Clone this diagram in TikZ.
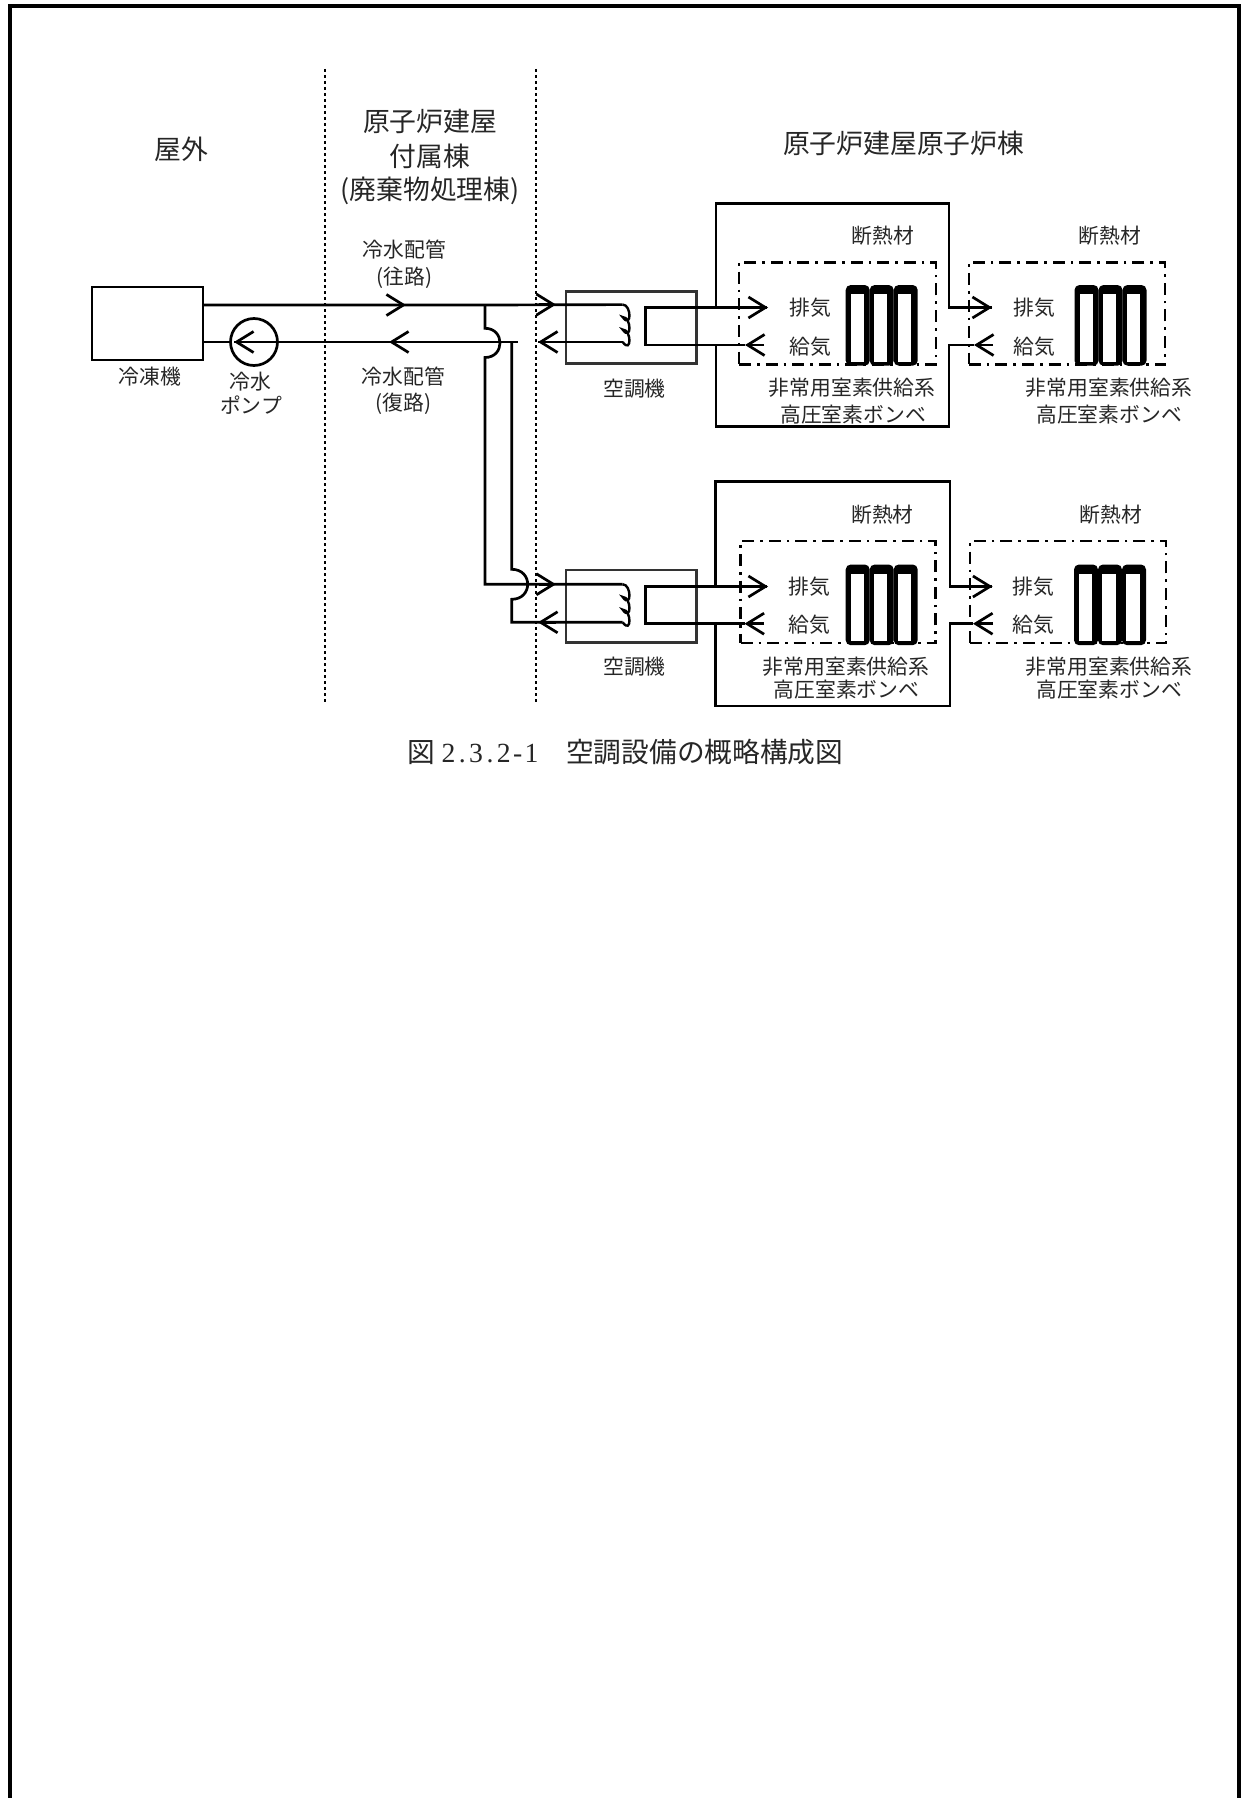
\documentclass[tikz,border=0pt]{standalone}
\usepackage{fontspec}
\setmainfont{Liberation Serif}
\newfontfamily\jp{Noto Sans CJK JP}
\usetikzlibrary{arrows.meta,calc}
\newcommand{\dch}[1]{\makebox[6.93pt][c]{#1}}
\tikzset{
  pipe/.style={line width=1.35pt,line join=miter},
  arr/.style={line width=1.35pt,-{Straight Barb[length=8.5pt,width=10.5pt,line width=1.35pt]}},
  boxn/.style={draw,line width=1.35pt,inner sep=0pt,outer sep=0pt},
  thinbox/.style={draw,draw=black!80,line width=1.25pt,inner sep=0pt,outer sep=0pt},
  ins/.style={draw,line width=1.25pt,dash pattern=on 6pt off 3pt on 1.3pt off 3pt,inner sep=0pt,outer sep=0pt},
  zone/.style={line width=1.25pt,dash pattern=on 1.4pt off 1.6pt},
  txt/.style={font=\jp\fontsize{10.4}{12}\selectfont,inner sep=0pt,text=black!85},
  big/.style={font=\jp\fontsize{13.4}{15}\selectfont,inner sep=0pt,text=black!85},
  bottles/.pic={
    \foreach \o/\i in {0/5,24/28.3,48/52.3}{
      \fill[rounded corners=2.5pt] (\o,0) rectangle (\o+24,80.7);
      \fill[white] (\i,9.3) rectangle (\i+13.4,76.7);
    }
  },
  coilpath/.style={line width=1.2pt}
}
\begin{document}
\begin{tikzpicture}[x=0.5pt,y=-0.5pt]
\useasboundingbox (0,0) rectangle (1248,1798);
% page frame
\draw[line width=2.4pt] (10,1798) -- (10,6) -- (1239,6) -- (1239,1798);
% zone boundaries
\coordinate (z1t) at (325,69); \coordinate (z1b) at (325,702);
\coordinate (z2t) at (536,69); \coordinate (z2b) at (536,702);
\draw[zone] (z1t) -- (z1b);
\draw[zone] (z2t) -- (z2b);
% zone titles
\node[big] (t1) at (181.5,149) {屋外};
\node[big] (t2) at (430,121.7) {原子炉建屋};
\node[big] (t3) at (430,156.7) {付属棟};
\node[big] (t4) at (430,190.7) {(廃棄物処理棟)};
\node[big] (t5) at (903.7,143) {原子炉建屋原子炉棟};
% equipment
\node[boxn,minimum width=55.5pt,minimum height=36.5pt] (chiller) at (147.5,323.5) {};
\node[boxn,circle,minimum size=23.5pt] (pump) at (254,342) {};
\node[thinbox,minimum width=65.3pt,minimum height=36pt] (ahuA) at (631.3,327.5) {};
\node[thinbox,minimum width=65.3pt,minimum height=36.3pt] (ahuB) at (631.3,606.4) {};
% labels
\node[txt] (l1) at (150,376.7) {冷凍機};
\node[txt] (l2) at (250.5,381.7) {冷水};
\node[txt] (l3) at (251,405) {ポンプ};
\node[txt] (l4) at (404.4,250) {冷水配管};
\node[txt] (l5) at (404.4,277.7) {(往路)};
\node[txt] (l6) at (403.4,376.7) {冷水配管};
\node[txt] (l7) at (403.4,403.3) {(復路)};
\node[txt] (l8) at (634.5,388.7) {空調機};
\node[txt] (l9) at (634.5,666.7) {空調機};
% chilled water, points
\coordinate (supL) at (482,305);
\coordinate (retR) at (517.7,342);
\coordinate (coilAt) at (622.7,304.6);
\coordinate (coilAb) at (622.7,342);
\coordinate (coilBt) at (622.7,584.3);
\coordinate (coilBb) at (622.7,622.3);
% main pipes
\draw[pipe] (chiller.east |- supL) -- (supL) -- (coilAt);
\draw[pipe] (chiller.east |- coilAb) -- (pump.west);
\draw[pipe] (pump.center) ++(-20,0) -- (retR);
\draw[pipe] (538,342) -- (coilAb);
% pipe arrows
\draw[arr] (389,305) -- (406,305);
\draw[arr] (406,342) -- (389,342);
\draw[arr] ($(pump.center)+(0,0)$) -- ($(pump.center)+(-20,0)$);
\draw[arr] (539,304.6) -- (556,304.6);
\draw[arr] (556,342) -- (538,342);
\draw[arr] (539,584.3) -- (556,584.3);
\draw[arr] (556,622.3) -- (538,622.3);
% branches with bridges
\draw[pipe] (485,305) -- (485,328.3) .. controls (505,328.3) and (505,357.5) .. (485,357.5) -- (485,584.3) -- (coilBt);
\draw[pipe] (511.7,342) -- (511.7,569.3) .. controls (533,569.3) and (533,599.3) .. (511.7,599.3) -- (511.7,622.3) -- (coilBb);
% coils
\draw[coilpath] (coilAt) .. controls +(9,0) and +(9,12.5) .. ++(0,12.5) .. controls +(9,0) and +(9,12.5) .. ++(0,12.5) .. controls +(9,0) and +(9,12.4) .. (coilAb);
\draw[coilpath] (coilBt) .. controls +(9,0) and +(9,12.7) .. ++(0,12.7) .. controls +(9,0) and +(9,12.7) .. ++(0,12.7) .. controls +(9,0) and +(9,12.6) .. (coilBb);
% upper unit
\coordinate (rAt) at (716,203.5); \coordinate (rAb) at (949,426.7);
\coordinate (a1) at (645.3,307.5); \coordinate (a2) at (645.3,345);
\draw[pipe] (rAt |- a1) -- (rAt) -- (rAb |- rAt) -- (rAb |- a1) -- (991.6,307.5);
\draw[pipe] (rAt |- a2) -- (rAt |- rAb) -- (rAb) -- (rAb |- a2) -- (974,345);
\draw[pipe] (767,307.5) -- (a1) -- (a2) -- (745,345);
\draw[arr] (750,307.5) -- (768,307.5);
\draw[arr] (764,345) -- (745,345);
\draw[arr] (974,307.5) -- (992,307.5);
\draw[arr] (993,345) -- (974,345);
\node[ins,minimum width=98.5pt,minimum height=51pt] (insA1) at (837.5,313.3) {};
\node[ins,minimum width=98.2pt,minimum height=51pt] (insA2) at (1067,313.3) {};
\pic at (845.7,285) {bottles};
\pic at (1074.5,285) {bottles};
\node[txt] (a3) at (883,236) {断熱材};
\node[txt] (a4) at (1110,236) {断熱材};
\node[txt] (a5) at (810,308) {排気};
\node[txt] (a6) at (810,346.7) {給気};
\node[txt] (a7) at (1034,308) {排気};
\node[txt] (a8) at (1034,346.7) {給気};
\node[txt] (a9) at (852,388) {非常用室素供給系};
\node[txt] (a10) at (853,415) {高圧室素ボンベ};
\node[txt] (a11) at (1109,388) {非常用室素供給系};
\node[txt] (a12) at (1109,415) {高圧室素ボンベ};
% lower unit
\coordinate (rBt) at (715.6,481.7); \coordinate (rBb) at (950,706);
\coordinate (b1) at (645.3,586.5); \coordinate (b2) at (645.3,623.7);
\draw[pipe] (rBt |- b1) -- (rBt) -- (rBb |- rBt) -- (rBb |- b1) -- (992,586.5);
\draw[pipe] (rBt |- b2) -- (rBt |- rBb) -- (rBb) -- (rBb |- b2) -- (973,623.7);
\draw[pipe] (767,586.5) -- (b1) -- (b2) -- (745,623.7);
\draw[arr] (750,586.5) -- (768,586.5);
\draw[arr] (764,623.7) -- (744.5,623.7);
\draw[arr] (975,586.5) -- (992.5,586.5);
\draw[arr] (993,623.7) -- (973,623.7);
\node[ins,minimum width=97.6pt,minimum height=51pt] (insB1) at (838.1,592) {};
\node[ins,minimum width=98.2pt,minimum height=51pt] (insB2) at (1068,592) {};
\pic at (845.7,564.5) {bottles};
\pic at (1074,564.5) {bottles};
\node[txt] (b3) at (882.5,515) {断熱材};
\node[txt] (b4) at (1111,515) {断熱材};
\node[txt] (b5) at (809,586.7) {排気};
\node[txt] (b6) at (809,625) {給気};
\node[txt] (b7) at (1033,586.7) {排気};
\node[txt] (b8) at (1033,625) {給気};
\node[txt] (b9) at (846,666.7) {非常用室素供給系};
\node[txt] (b10) at (846.5,690) {高圧室素ボンベ};
\node[txt] (b11) at (1109,666.7) {非常用室素供給系};
\node[txt] (b12) at (1109,690) {高圧室素ボンベ};
% caption
\node[inner sep=0pt,text=black!85,font=\fontsize{13.85}{16}\selectfont] (cap) at (625.5,752) {{\jp 図}\hspace{3pt}\dch{2}\dch{.}\dch{3}\dch{.}\dch{2}\dch{-}\dch{1}{\jp\hspace{13.85pt}空調設備の概略構成図}};
\end{tikzpicture}
\end{document}
